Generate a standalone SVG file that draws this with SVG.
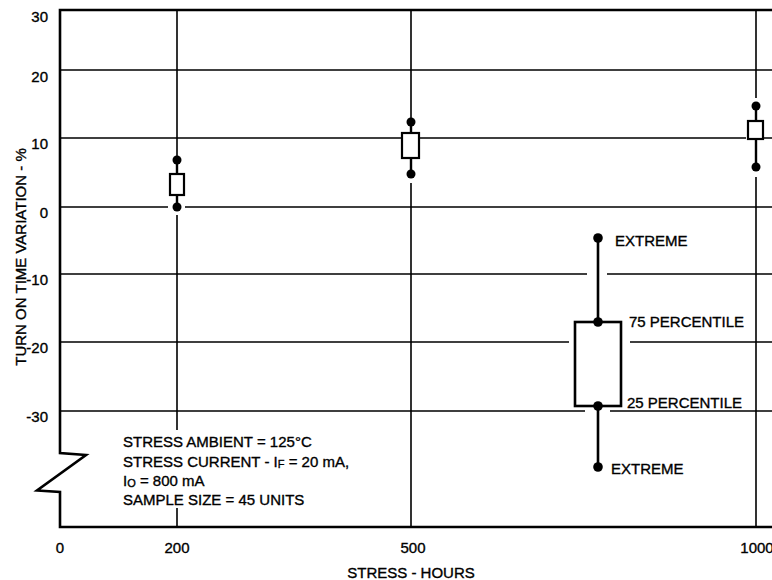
<svg xmlns="http://www.w3.org/2000/svg" width="772" height="580" viewBox="0 0 772 580">
<style>
text{font-family:"Liberation Sans",Arial,Helvetica,sans-serif;font-size:15px;fill:#000;stroke:#000;stroke-width:0.35}
.grid{stroke:#000;stroke-width:1.6;fill:none}
.axis{stroke:#000;stroke-width:2.6;fill:none;stroke-linejoin:miter}
.wh{stroke:#000;stroke-width:2.4;fill:none}
.box{stroke:#000;stroke-width:2.2;fill:#fff}
.lg{stroke:#000;stroke-width:2.6;fill:none}
.dot{fill:#000}
.sub{font-size:11px}
</style>
<rect width="772" height="580" fill="#fff"/>
<g id="connectors">
<g id="gridlines" class="grid">
<path d="M60 70H772"/>
<path d="M60 138H401M420 138H746M763 138H772"/>
<path d="M60 207H168M185 207H772"/>
<path d="M60 274H587M607 274H772"/>
<path d="M60 342H569M630 342H772"/>
<path d="M60 411H585M610 411H772"/>
<path d="M177 10V160M177 215V430M177 508V527"/>
<path d="M411 10V122M411 183V527"/>
<path d="M756 10V98M756 177V527"/>
</g>
<g id="axes" class="axis">
<path d="M772 10H60V453L86 455L37 490.5L60 492V527H772"/>
</g>
</g>
<g id="point-200">
<path class="wh" d="M177 160V174M177 195V207"/>
<rect class="box" x="170" y="174" width="14" height="21"/>
<circle class="dot" cx="177" cy="160" r="4.5"/>
<circle class="dot" cx="177" cy="207" r="4.5"/>
</g>
<g id="point-500">
<path class="wh" d="M411 122V133M411 158V174"/>
<rect class="box" x="402" y="133" width="17" height="25"/>
<circle class="dot" cx="411" cy="122" r="4.5"/>
<circle class="dot" cx="411" cy="174" r="4.5"/>
</g>
<g id="point-1000">
<path class="wh" d="M756 106V121M756 139V167"/>
<rect class="box" x="748" y="121" width="15" height="18"/>
<circle class="dot" cx="756" cy="106" r="4.5"/>
<circle class="dot" cx="756" cy="167" r="4.5"/>
</g>
<g id="boxplot-key">
<path class="lg" d="M598 238V322M598 406V467"/>
<rect class="lg" x="575" y="322" width="46" height="84" fill="none"/>
<circle class="dot" cx="598" cy="238" r="4.8"/>
<circle class="dot" cx="598" cy="322" r="4.8"/>
<circle class="dot" cx="598" cy="406" r="4.8"/>
<circle class="dot" cx="598" cy="467" r="4.8"/>
<text x="615" y="246">EXTREME</text>
<text x="629" y="327">75 PERCENTILE</text>
<text x="627" y="408">25 PERCENTILE</text>
<text x="611" y="474">EXTREME</text>
</g>
<g id="conditions">
<text x="123" y="447">STRESS AMBIENT = 125°C</text>
<text x="123" y="467">STRESS CURRENT - I<tspan class="sub" dy="1">F</tspan><tspan dy="-1"> = 20 mA,</tspan></text>
<text x="123" y="486">I<tspan class="sub" dy="1">O</tspan><tspan dy="-1"> = 800 mA</tspan></text>
<text x="123" y="505">SAMPLE SIZE = 45 UNITS</text>
</g>
<g id="y-labels" text-anchor="end">
<text x="48" y="22">30</text>
<text x="48" y="82">20</text>
<text x="48" y="149">10</text>
<text x="48" y="218">0</text>
<text x="48" y="285">-10</text>
<text x="48" y="353">-20</text>
<text x="48" y="422">-30</text>
</g>
<g id="x-labels" text-anchor="middle">
<text x="60" y="553">0</text>
<text x="177" y="553">200</text>
<text x="413" y="553">500</text>
<text x="757" y="553">1000</text>
<text x="411" y="578">STRESS - HOURS</text>
</g>
<text transform="translate(25.5 257) rotate(-90)" text-anchor="middle">TURN ON TIME VARIATION - %</text>
</svg>
